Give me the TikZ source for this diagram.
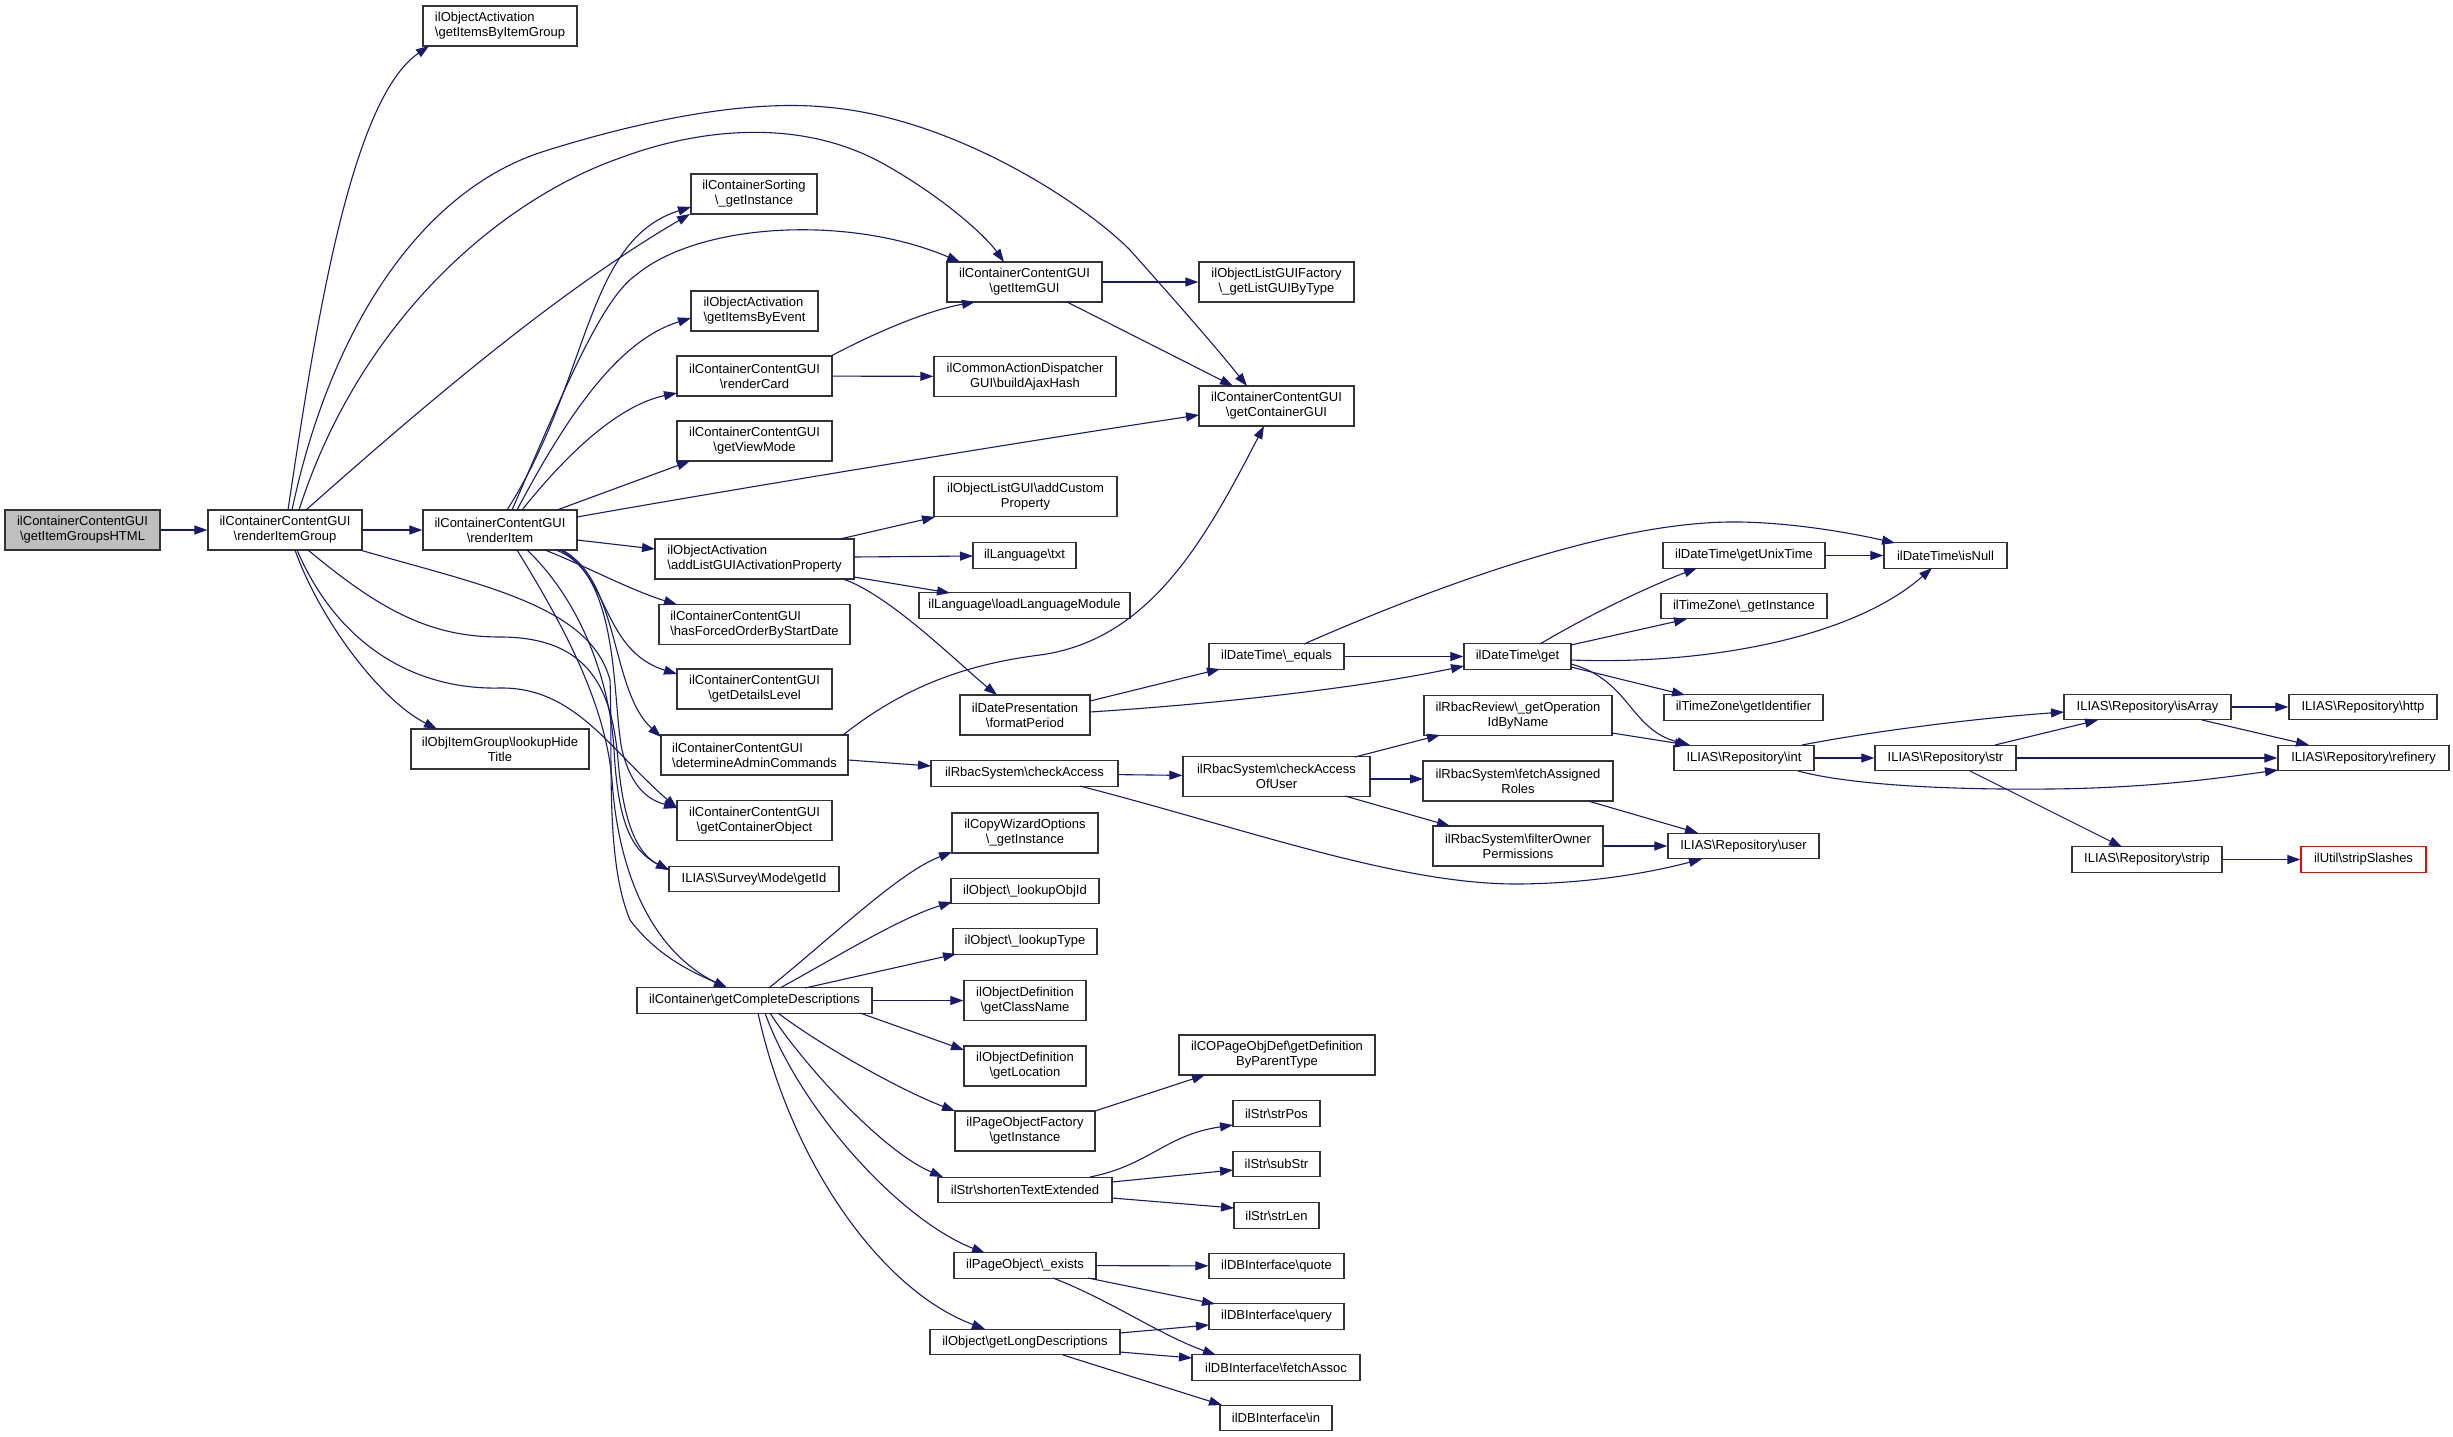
\documentclass[tikz,border=0pt]{standalone}
\usepackage{fontspec}
\setmainfont{Liberation Sans}
\usetikzlibrary{arrows.meta}
\definecolor{edgec}{HTML}{191970}
\definecolor{rootfill}{HTML}{BFBFBF}
\newcommand{\bsl}{\textbackslash}
\tikzset{
  dbox/.style={draw=black!80, line width=1.3pt, fill=white, inner sep=1pt, align=center, font=\fontsize{13}{15}\selectfont},
  lbox/.style={dbox, align=left},
  htwo/.style={minimum height=40pt},
  hone/.style={minimum height=25.5pt},
  cedge/.style={draw=edgec, line width=1.1pt, -{Triangle[length=13pt,width=9pt]}},
}
\begin{document}
\begin{tikzpicture}[x=1pt,y=-1pt]
\fill[white] (0,0) rectangle (2453,1437);
\useasboundingbox (0,0) rectangle (2453,1437);
% ---------- nodes ----------
\node[dbox,htwo,minimum width=155pt,fill=rootfill] (root) at (82.5,530) {ilContainerContentGUI\\\bsl getItemGroupsHTML};
\node[dbox,htwo,minimum width=154pt] (rig) at (285,530) {ilContainerContentGUI\\\bsl renderItemGroup};
\node[dbox,htwo,minimum width=154pt] (ri) at (500,530) {ilContainerContentGUI\\\bsl renderItem};
\node[lbox,htwo,minimum width=154pt] (gibig) at (500,26) {ilObjectActivation\\\bsl getItemsByItemGroup};
\node[dbox,htwo,minimum width=126pt] (sort) at (754,194) {ilContainerSorting\\\bsl\_getInstance};
\node[lbox,htwo,minimum width=127pt] (gibe) at (754.5,311) {ilObjectActivation\\\bsl getItemsByEvent};
\node[dbox,htwo,minimum width=155pt] (rcard) at (754.5,376) {ilContainerContentGUI\\\bsl renderCard};
\node[dbox,htwo,minimum width=155pt] (gvm) at (754.5,441) {ilContainerContentGUI\\\bsl getViewMode};
\node[lbox,htwo,minimum width=199pt] (alg) at (754.5,559) {ilObjectActivation\\\bsl addListGUIActivationProperty};
\node[lbox,htwo,minimum width=191pt] (hfo) at (754.5,624.5) {ilContainerContentGUI\\\bsl hasForcedOrderByStartDate};
\node[dbox,htwo,minimum width=155pt] (gdl) at (754.5,689) {ilContainerContentGUI\\\bsl getDetailsLevel};
\node[lbox,htwo,minimum width=187pt] (dac) at (754.5,755) {ilContainerContentGUI\\\bsl determineAdminCommands};
\node[dbox,htwo,minimum width=155pt] (gco) at (754.5,820.5) {ilContainerContentGUI\\\bsl getContainerObject};
\node[dbox,hone,minimum width=170pt] (sid) at (754,879) {ILIAS\bsl Survey\bsl Mode\bsl getId};
\node[dbox,htwo,minimum width=178pt] (lht) at (500,749) {ilObjItemGroup\bsl lookupHide\\Title};
\node[dbox,hone,minimum width=235pt] (gcd) at (754.5,1000.5) {ilContainer\bsl getCompleteDescriptions};
\node[dbox,htwo,minimum width=155pt] (gig) at (1024.5,282) {ilContainerContentGUI\\\bsl getItemGUI};
\node[dbox,htwo,minimum width=155pt] (glg) at (1276.5,282) {ilObjectListGUIFactory\\\bsl\_getListGUIByType};
\node[dbox,htwo,minimum width=182pt] (bah) at (1025,376.5) {ilCommonActionDispatcher\\GUI\bsl buildAjaxHash};
\node[dbox,htwo,minimum width=155pt] (gcg) at (1276.5,406) {ilContainerContentGUI\\\bsl getContainerGUI};
\node[dbox,htwo,minimum width=183pt] (acp) at (1025.5,496.5) {ilObjectListGUI\bsl addCustom\\Property};
\node[dbox,hone,minimum width=103pt] (txt) at (1024.5,555.5) {ilLanguage\bsl txt};
\node[dbox,hone,minimum width=211pt] (llm) at (1024.5,605.5) {ilLanguage\bsl loadLanguageModule};
\node[dbox,htwo,minimum width=130pt] (fp) at (1025,715) {ilDatePresentation\\\bsl formatPeriod};
\node[dbox,hone,minimum width=135pt] (eq) at (1276.5,656.5) {ilDateTime\bsl\_equals};
\node[dbox,hone,minimum width=187pt] (ca) at (1024.5,773.5) {ilRbacSystem\bsl checkAccess};
\node[dbox,htwo,minimum width=187pt] (cau) at (1276.5,776.5) {ilRbacSystem\bsl checkAccess\\OfUser};
\node[dbox,htwo,minimum width=146pt] (cwo) at (1025,833) {ilCopyWizardOptions\\\bsl\_getInstance};
\node[dbox,hone,minimum width=148pt] (loi) at (1025,891) {ilObject\bsl\_lookupObjId};
\node[dbox,hone,minimum width=144pt] (lty) at (1025,941.5) {ilObject\bsl\_lookupType};
\node[dbox,htwo,minimum width=122pt] (gcn) at (1025,1000.5) {ilObjectDefinition\\\bsl getClassName};
\node[dbox,htwo,minimum width=122pt] (gloc) at (1025,1066) {ilObjectDefinition\\\bsl getLocation};
\node[dbox,htwo,minimum width=140pt] (pof) at (1025,1131) {ilPageObjectFactory\\\bsl getInstance};
\node[dbox,hone,minimum width=174pt] (ste) at (1025,1190) {ilStr\bsl shortenTextExtended};
\node[dbox,hone,minimum width=142pt] (pox) at (1025,1265.5) {ilPageObject\bsl\_exists};
\node[dbox,hone,minimum width=190pt] (gld) at (1025,1342) {ilObject\bsl getLongDescriptions};
\node[dbox,htwo,minimum width=196pt] (gdp) at (1277,1055) {ilCOPageObjDef\bsl getDefinition\\ByParentType};
\node[dbox,hone,minimum width=87pt] (spos) at (1276.5,1113.5) {ilStr\bsl strPos};
\node[dbox,hone,minimum width=87pt] (ssub) at (1276.5,1164) {ilStr\bsl subStr};
\node[dbox,hone,minimum width=85pt] (slen) at (1276.5,1215.5) {ilStr\bsl strLen};
\node[dbox,hone,minimum width=135pt] (quote) at (1276.5,1266) {ilDBInterface\bsl quote};
\node[dbox,hone,minimum width=135pt] (query) at (1276.5,1316.5) {ilDBInterface\bsl query};
\node[dbox,hone,minimum width=168pt] (fa) at (1276,1367.5) {ilDBInterface\bsl fetchAssoc};
\node[dbox,hone,minimum width=112pt] (din) at (1276,1418) {ilDBInterface\bsl in};
\node[dbox,hone,minimum width=107pt] (dtg) at (1517.5,656.5) {ilDateTime\bsl get};
\node[dbox,htwo,minimum width=188pt] (gop) at (1518,715.5) {ilRbacReview\bsl\_getOperation\\IdByName};
\node[dbox,htwo,minimum width=190pt] (far) at (1518,781) {ilRbacSystem\bsl fetchAssigned\\Roles};
\node[dbox,htwo,minimum width=170pt] (fop) at (1518,846) {ilRbacSystem\bsl filterOwner\\Permissions};
\node[dbox,hone,minimum width=162pt] (gut) at (1744,555.5) {ilDateTime\bsl getUnixTime};
\node[dbox,hone,minimum width=166pt] (tzi) at (1744,606) {ilTimeZone\bsl\_getInstance};
\node[dbox,hone,minimum width=159pt] (tzid) at (1743.5,707.5) {ilTimeZone\bsl getIdentifier};
\node[dbox,hone,minimum width=140pt] (rint) at (1744,758) {ILIAS\bsl Repository\bsl int};
\node[dbox,hone,minimum width=151pt] (ruser) at (1743.5,846) {ILIAS\bsl Repository\bsl user};
\node[dbox,hone,minimum width=123pt] (isnull) at (1945.5,555.5) {ilDateTime\bsl isNull};
\node[dbox,hone,minimum width=141pt] (rstr) at (1945.5,758) {ILIAS\bsl Repository\bsl str};
\node[dbox,hone,minimum width=167pt] (isarr) at (2147.5,707) {ILIAS\bsl Repository\bsl isArray};
\node[dbox,hone,minimum width=150pt] (strip) at (2147,859.5) {ILIAS\bsl Repository\bsl strip};
\node[dbox,hone,minimum width=148pt] (http) at (2363,707) {ILIAS\bsl Repository\bsl http};
\node[dbox,hone,minimum width=171pt] (ref) at (2363.5,758) {ILIAS\bsl Repository\bsl refinery};
\node[dbox,hone,minimum width=125pt,draw=red] (ss) at (2363.5,859.5) {ilUtil\bsl stripSlashes};
% ---------- edges ----------
\draw[cedge] (root) -- (rig);
\draw[cedge] (rig) -- (ri);
% renderItemGroup
\draw[cedge] ([shift={(3,-20)}]rig.center) .. controls (315,330) and (350,100) .. ([shift={(-71,20)}]gibig.center);
\draw[cedge] ([shift={(7,-20)}]rig.center) .. controls (330,330) and (420,190) .. (545,151) .. controls (650,118) and (750,100) .. (825,107) .. controls (950,117) and (1080,200) .. (1130,250) .. controls (1170,295) and (1210,340) .. ([shift={(-29.5,-20)}]gcg.center);
\draw[cedge] ([shift={(14,-20)}]rig.center) .. controls (360,320) and (500,200) .. (620,158) .. controls (700,128) and (800,118) .. (882,163) .. controls (940,195) and (985,235) .. ([shift={(-20.5,-20)}]gig.center);
\draw[cedge] ([shift={(21,-20)}]rig.center) .. controls (430,400) and (560,290) .. ([shift={(-64,20)}]sort.center);
\draw[cedge] ([shift={(10,20)}]rig.center) .. controls (320,620) and (380,700) .. ([shift={(-63,-20)}]lht.center);
\draw[cedge] ([shift={(12,20)}]rig.center) .. controls (340,650) and (420,690) .. (500,688) .. controls (575,687) and (610,750) .. ([shift={(-77.5,-12.5)}]gco.center);
\draw[cedge] ([shift={(23,20)}]rig.center) .. controls (380,610) and (430,637) .. (500,637) .. controls (590,637) and (612,690) .. (618,760) .. controls (624,830) and (640,855) .. ([shift={(-85,-9)}]sid.center);
\draw[cedge] ([shift={(75,20)}]rig.center) .. controls (480,585) and (590,605) .. (610,680) .. controls (613,760) and (605,860) .. (630,920) .. controls (660,960) and (700,975) .. ([shift={(-27.5,-12.5)}]gcd.center);
% renderItem
\draw[cedge] ([shift={(7,-20)}]ri.center) .. controls (590,380) and (585,240) .. ([shift={(-63,13)}]sort.center);
\draw[cedge] ([shift={(12,-20)}]ri.center) .. controls (560,400) and (600,300) .. (636,275) .. controls (700,222) and (850,215) .. ([shift={(-64.5,-20)}]gig.center);
\draw[cedge] ([shift={(17,-20)}]ri.center) .. controls (570,410) and (620,340) .. ([shift={(-63.5,7)}]gibe.center);
\draw[cedge] ([shift={(22,-20)}]ri.center) .. controls (570,450) and (620,405) .. ([shift={(-77.5,17)}]rcard.center);
\draw[cedge] ([shift={(57,-20)}]ri.center) -- ([shift={(-64.5,20)}]gvm.center);
\draw[cedge] ([shift={(77,-13)}]ri.center) .. controls (700,495) and (1000,445) .. ([shift={(-77.5,9)}]gcg.center);
\draw[cedge] ([shift={(77,10)}]ri.center) -- ([shift={(-99.5,-10)}]alg.center);
\draw[cedge] ([shift={(45,20)}]ri.center) .. controls (590,568) and (630,590) .. ([shift={(-77.5,-20)}]hfo.center);
\draw[cedge] ([shift={(56,20)}]ri.center) .. controls (610,570) and (600,650) .. ([shift={(-77.5,-15)}]gdl.center);
\draw[cedge] ([shift={(62,20)}]ri.center) .. controls (620,580) and (610,690) .. ([shift={(-93.5,-18)}]dac.center);
\draw[cedge] ([shift={(60,20)}]ri.center) .. controls (620,580) and (612,700) .. (622,750) .. controls (632,790) and (650,800) .. ([shift={(-77.5,-12.5)}]gco.center);
\draw[cedge] ([shift={(27,20)}]ri.center) .. controls (580,600) and (610,680) .. (614,750) .. controls (618,820) and (630,850) .. ([shift={(-85,-9)}]sid.center);
\draw[cedge] ([shift={(17,20)}]ri.center) .. controls (560,620) and (605,700) .. (612,780) .. controls (618,870) and (650,950) .. ([shift={(-27.5,-12.5)}]gcd.center);
% second level
\draw[cedge] ([shift={(76.5,-20)}]rcard.center) .. controls (880,330) and (930,310) .. ([shift={(-49.5,20)}]gig.center);
\draw[cedge] (rcard) -- (bah);
\draw[cedge] (gig) -- (glg);
\draw[cedge] ([shift={(42.5,20)}]gig.center) -- ([shift={(-43.5,-20)}]gcg.center);
\draw[cedge] ([shift={(88.5,-20)}]dac.center) .. controls (900,690) and (960,665) .. (1040,655) .. controls (1150,640) and (1205,540) .. ([shift={(-12.5,20)}]gcg.center);
\draw[cedge] ([shift={(93.5,5)}]dac.center) -- ([shift={(-93.5,-7.5)}]ca.center);
\draw[cedge] ([shift={(85.5,-20)}]alg.center) -- ([shift={(-90.5,20.5)}]acp.center);
\draw[cedge] ([shift={(99.5,-2)}]alg.center) -- ([shift={(-51.5,0.5)}]txt.center);
\draw[cedge] ([shift={(99.5,18)}]alg.center) -- ([shift={(-74.5,-12.5)}]llm.center);
\draw[cedge] ([shift={(88.5,20)}]alg.center) .. controls (890,595) and (960,665) .. ([shift={(-28,-20)}]fp.center);
\draw[cedge] ([shift={(65,-14)}]fp.center) -- ([shift={(-56.5,12.5)}]eq.center);
\draw[cedge] ([shift={(65,-3)}]fp.center) .. controls (1200,705) and (1350,690) .. ([shift={(-53.5,9.5)}]dtg.center);
\draw[cedge] (eq) -- (dtg);
\draw[cedge] ([shift={(27.5,-12.5)}]eq.center) .. controls (1450,580) and (1620,520) .. (1740,522) .. controls (1800,523) and (1860,535) .. ([shift={(-50.5,-12.5)}]isnull.center);
\draw[cedge] ([shift={(22.5,-12.5)}]dtg.center) .. controls (1580,620) and (1640,590) .. ([shift={(-47,12.5)}]gut.center);
\draw[cedge] ([shift={(53.5,-11.5)}]dtg.center) -- ([shift={(-57,13)}]tzi.center);
\draw[cedge] ([shift={(53.5,3.5)}]dtg.center) .. controls (1700,665) and (1850,640) .. ([shift={(-13.5,12.5)}]isnull.center);
\draw[cedge] ([shift={(53.5,10.5)}]dtg.center) -- ([shift={(-58.5,-12.5)}]tzid.center);
\draw[cedge] ([shift={(53.5,7.5)}]dtg.center) .. controls (1630,680) and (1630,730) .. ([shift={(-54,-13)}]rint.center);
\draw[cedge] (ca) -- (cau);
\draw[cedge] ([shift={(55.5,12.5)}]ca.center) .. controls (1250,830) and (1400,885) .. (1520,884) .. controls (1600,883) and (1660,870) .. ([shift={(-41.5,13)}]ruser.center);
\draw[cedge] ([shift={(78.5,-19.5)}]cau.center) -- ([shift={(-78,19.5)}]gop.center);
\draw[cedge] ([shift={(93.5,2.5)}]cau.center) -- ([shift={(-95,-2)}]far.center);
\draw[cedge] ([shift={(68.5,19.5)}]cau.center) -- ([shift={(-68,-20)}]fop.center);
\draw[cedge] ([shift={(94,17.5)}]gop.center) -- ([shift={(-56,-13)}]rint.center);
\draw[cedge] ([shift={(70,20)}]far.center) -- ([shift={(-45.5,-13)}]ruser.center);
\draw[cedge] (fop) -- (ruser);
\draw[cedge] (gut) -- (isnull);
\draw[cedge] ([shift={(58,-13)}]rint.center) .. controls (1880,730) and (1980,718) .. ([shift={(-83.5,5)}]isarr.center);
\draw[cedge] (rint) -- (rstr);
\draw[cedge] ([shift={(54,13)}]rint.center) .. controls (1850,785) and (1950,790) .. (2050,789) .. controls (2150,788) and (2220,778) .. ([shift={(-85.5,12)}]ref.center);
\draw[cedge] ([shift={(49.5,-13)}]rstr.center) -- ([shift={(-49.5,13)}]isarr.center);
\draw[cedge] (rstr) -- (ref);
\draw[cedge] ([shift={(24.5,13)}]rstr.center) -- ([shift={(-25,-12.5)}]strip.center);
\draw[cedge] (isarr) -- (http);
\draw[cedge] ([shift={(54.5,13)}]isarr.center) -- ([shift={(-54.5,-13)}]ref.center);
\draw[cedge] (strip) -- (ss);
% getCompleteDescriptions
\draw[cedge] ([shift={(14.5,-12.5)}]gcd.center) .. controls (840,930) and (900,872) .. ([shift={(-73,19)}]cwo.center);
\draw[cedge] ([shift={(25.5,-12.5)}]gcd.center) .. controls (840,955) and (900,918) .. ([shift={(-73,11)}]loi.center);
\draw[cedge] ([shift={(50.5,-12.5)}]gcd.center) -- ([shift={(-69,12.5)}]lty.center);
\draw[cedge] (gcd) -- (gcn);
\draw[cedge] ([shift={(105.5,12.5)}]gcd.center) -- ([shift={(-61,-16)}]gloc.center);
\draw[cedge] ([shift={(23.5,12.5)}]gcd.center) .. controls (820,1045) and (900,1090) .. ([shift={(-70,-20)}]pof.center);
\draw[cedge] ([shift={(15.5,12.5)}]gcd.center) .. controls (800,1060) and (880,1150) .. ([shift={(-82,-13)}]ste.center);
\draw[cedge] ([shift={(10.5,12.5)}]gcd.center) .. controls (800,1110) and (900,1220) .. ([shift={(-40,-12.5)}]pox.center);
\draw[cedge] ([shift={(3.5,12.5)}]gcd.center) .. controls (790,1160) and (880,1290) .. ([shift={(-40,-13)}]gld.center);
\draw[cedge] ([shift={(70,-20)}]pof.center) -- ([shift={(-72,20)}]gdp.center);
\draw[cedge] ([shift={(65,-13)}]ste.center) .. controls (1150,1165) and (1165,1135) .. ([shift={(-43.5,11.5)}]spos.center);
\draw[cedge] ([shift={(87,-8)}]ste.center) -- ([shift={(-43.5,6)}]ssub.center);
\draw[cedge] ([shift={(87,8)}]ste.center) -- ([shift={(-42.5,-7.5)}]slen.center);
\draw[cedge] (pox) -- (quote);
\draw[cedge] ([shift={(63,12.5)}]pox.center) -- ([shift={(-61.5,-12.5)}]query.center);
\draw[cedge] ([shift={(28,12.5)}]pox.center) .. controls (1110,1300) and (1160,1335) .. ([shift={(-60,-12.5)}]fa.center);
\draw[cedge] ([shift={(95,-9)}]gld.center) -- ([shift={(-67.5,8.5)}]query.center);
\draw[cedge] ([shift={(95,10)}]gld.center) -- ([shift={(-84,-9.5)}]fa.center);
\draw[cedge] ([shift={(38,13)}]gld.center) -- ([shift={(-54,-13)}]din.center);
\end{tikzpicture}
\end{document}
